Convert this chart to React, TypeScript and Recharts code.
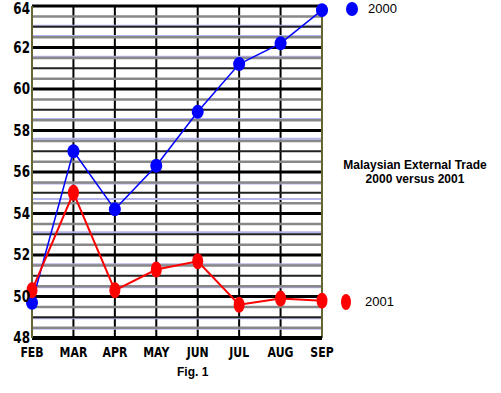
import React from 'react';
import { LineChart, Line, XAxis, YAxis, CartesianGrid, ReferenceLine } from 'recharts';

const months = ['FEB', 'MAR', 'APR', 'MAY', 'JUN', 'JUL', 'AUG', 'SEP'];
const trade2000 = [49.7, 57.0, 54.2, 56.3, 58.9, 61.2, 62.2, 63.8];
const trade2001 = [50.3, 55.0, 50.3, 51.3, 51.7, 49.6, 49.9, 49.8];
const yTicks = [48, 50, 52, 54, 56, 58, 60, 62, 64];
const gridLevels = [
  48.5, 49, 49.5, 50, 50.5, 51, 51.5, 52, 52.5, 53, 53.5, 54, 54.5, 55, 55.5, 56,
  56.5, 57, 57.5, 58, 58.5, 59, 59.5, 60, 60.5, 61, 61.5, 62, 62.5, 63, 63.5, 64,
];
const paleLevels = [48.45, 48.95, 50.45, 51.55, 53.1, 54.7, 55.45, 57.6, 58.55, 61.55, 62.55, 63.05];

const data = months.map((m, i) => ({ month: m, y2000: trade2000[i], y2001: trade2001[i] }));

const tickFont = "'DejaVu Sans', sans-serif";

// how each grid level is drawn
const gridStyle = (v: number) => {
  if (v % 2 === 0) return { stroke: '#000', w: 3 };
  if (v % 1 === 0) return { stroke: '#222', w: 2 };
  return { stroke: '#888', w: 2.5 };
};

// narrow bold tick labels, squeezed sideways
const XTick = (props: any) => {
  const { x, y, payload } = props;
  return (
    <text
      transform={`translate(${x},${y + 19}) scale(0.78,1)`}
      textAnchor="middle"
      fontFamily={tickFont}
      fontWeight="bold"
      fontSize={14}
      fill="#000"
    >
      {payload.value}
    </text>
  );
};

const YTick = (props: any) => {
  const { x, y, payload } = props;
  return (
    <text
      transform={`translate(${x - 2},${y + 5}) scale(0.8,1)`}
      textAnchor="end"
      fontFamily={tickFont}
      fontWeight="bold"
      fontSize={15}
      fill="#000"
    >
      {payload.value}
    </text>
  );
};

const BlueDot = (props: any) => {
  const { cx, cy } = props;
  if (cx == null || cy == null) return null;
  return <ellipse cx={cx} cy={cy} rx={6} ry={7} fill="#0000ff" />;
};

const RedDot = (props: any) => {
  const { cx, cy } = props;
  if (cx == null || cy == null) return null;
  return <ellipse cx={cx} cy={cy} rx={5.5} ry={8} fill="#ff0000" />;
};

export default function App() {
  return (
    <div style={{ position: 'absolute', left: 0, top: 0, width: 501, height: 393, background: '#fff' }}>
      <LineChart width={501} height={393} data={data} margin={{ top: 6, right: 179, bottom: 0, left: 0 }}>
        <CartesianGrid horizontal={false} vertical stroke="#000" strokeWidth={2} />
        {paleLevels.map((v) => (
          <ReferenceLine key={'p' + v} y={v} stroke="#b4b4ee" strokeWidth={2} />
        ))}
        {gridLevels.map((v) => {
          const s = gridStyle(v);
          return <ReferenceLine key={'g' + v} y={v} stroke={s.stroke} strokeWidth={s.w} />;
        })}
        <XAxis
          dataKey="month"
          height={55}
          padding={{ left: 0, right: 0 }}
          axisLine={{ stroke: '#000', strokeWidth: 4 }}
          tickLine={false}
          tickSize={0}
          tickMargin={0}
          tick={<XTick />}
          interval={0}
        />
        <YAxis
          domain={[48, 64]}
          ticks={yTicks}
          width={32}
          axisLine={{ stroke: '#666633', strokeWidth: 2 }}
          tickLine={false}
          tickSize={0}
          tickMargin={0}
          tick={<YTick />}
        />
        <ReferenceLine x="SEP" stroke="#666633" strokeWidth={2} />
        <Line
          dataKey="y2000"
          stroke="#0000ff"
          strokeWidth={1.5}
          dot={<BlueDot />}
          activeDot={false}
          isAnimationActive={false}
        />
        <Line
          dataKey="y2001"
          stroke="#ff0000"
          strokeWidth={2}
          dot={<RedDot />}
          activeDot={false}
          isAnimationActive={false}
        />
      </LineChart>

      <div style={{ position: 'absolute', left: 346, top: 2, width: 12, height: 14, borderRadius: '50%', background: '#0000ff' }} />
      <div style={{ position: 'absolute', left: 368, top: 1, fontFamily: "'Liberation Sans', Arial, sans-serif", fontSize: 13, color: '#000' }}>2000</div>

      <div style={{ position: 'absolute', left: 341, top: 294, width: 10, height: 16, borderRadius: '50%', background: '#ff0000' }} />
      <div style={{ position: 'absolute', left: 365, top: 294, fontFamily: "'Liberation Sans', Arial, sans-serif", fontSize: 13, color: '#000' }}>2001</div>

      <div
        style={{
          position: 'absolute',
          left: 335,
          top: 158,
          width: 160,
          textAlign: 'center',
          fontFamily: "'Liberation Sans', Arial, sans-serif",
          fontWeight: 'bold',
          fontSize: 12,
          lineHeight: '14px',
          color: '#000',
        }}
      >
        Malaysian External Trade
        <br />
        2000 versus 2001
      </div>

      <div
        style={{
          position: 'absolute',
          left: 177,
          top: 365,
          fontFamily: "'Liberation Sans', Arial, sans-serif",
          fontWeight: 'bold',
          fontSize: 12,
          color: '#000',
        }}
      >
        Fig. 1
      </div>
    </div>
  );
}
